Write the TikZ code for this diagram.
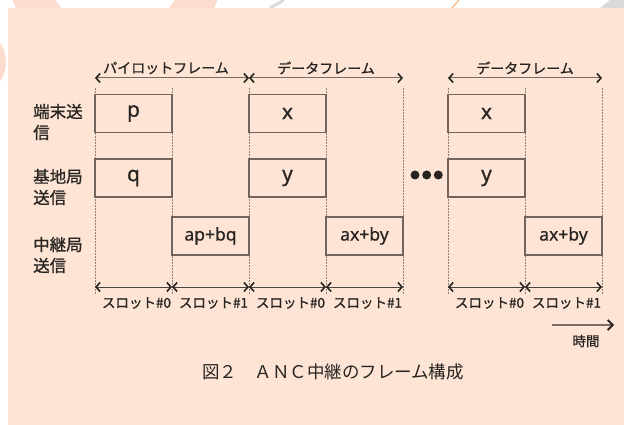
\documentclass[tikz,border=0pt]{standalone}
\usepackage{fontspec}
\setmainfont[FakeBold=0.6]{Noto Sans}
\newfontfamily\jp[FakeBold=0.9]{Noto Sans CJK JP}
\newfontfamily\jpcap{Noto Sans CJK JP}
\usetikzlibrary{arrows.meta}
\definecolor{peach}{RGB}{253,228,212}
\definecolor{boxline}{RGB}{112,100,92}
\definecolor{ink}{RGB}{40,36,34}
\definecolor{dotc}{RGB}{140,128,120}
\definecolor{spanline}{RGB}{120,108,100}
\definecolor{ringc}{RGB}{251,220,207}
\definecolor{greyband}{RGB}{218,218,218}
\definecolor{orangeline}{RGB}{245,172,105}
\begin{document}
\begin{tikzpicture}[x=1pt,y=-1pt,
  slotbox/.style={draw=boxline,line width=1.3pt,fill=peach,minimum width=77pt,minimum height=38pt,inner sep=0pt,text=ink,font=\fontsize{21}{21}\selectfont},
  sumbox/.style={slotbox,font=\fontsize{17.5}{17.5}\selectfont},
  guide/.style={draw=dotc,line width=0.9pt,dash pattern=on 1.6pt off 1.4pt},
  barb/.style={>={Straight Barb[length=4pt,width=9pt,line width=1.6pt,color=ink]},<->},
  topspan/.style={draw=spanline,line width=1pt,barb},
  slotspan/.style={draw=ink!85,line width=1pt,barb},
  framelbl/.style={text=ink,font=\jp\fontsize{14}{14}\selectfont,inner sep=0pt},
  slotlbl/.style={text=ink,font=\jp\fontsize{13.5}{13.5}\selectfont,inner sep=0pt},
  rowlbl/.style={text=ink,font=\jp\fontsize{16.5}{21}\selectfont,align=left,anchor=west,inner sep=0pt},
  timearrow/.style={draw=spanline,line width=1.2pt,-{Straight Barb[length=5pt,width=10pt,line width=1.8pt,color=ink]}}
]
\useasboundingbox (0,0) rectangle (624,425);
% background
\begin{scope}
\clip (0,0) rectangle (624,425);
\fill[white] (0,0) rectangle (624,425);
\fill[ringc,even odd rule] (115,-40) circle (110pt) (115,-40) circle (72pt);
\fill[ringc] (-12,62) ellipse (18pt and 26pt);
\draw[greyband,line width=3pt] (284,0) -- (270,8);
\draw[orangeline,line width=1pt] (459,0) -- (452,8);
\fill[greyband] (610,0) -- (624,0) -- (624,8) -- (600,8) -- cycle;
\fill[peach] (8,8) rectangle (624,425);
\end{scope}
% guide lines and arrow anchors
\foreach \i/\x in {0/95,1/172,2/249,3/326,4/403,5/448,6/525,7/602}{
  \coordinate (t\i) at (\x,88);
  \coordinate (b\i) at (\x,294);
  \coordinate (a\i) at (\x,78);
  \coordinate (s\i) at (\x,287);
  \draw[guide] (t\i) -- (b\i);
}
% boxes
\node[slotbox] (p)  at (133.5,113.5) {p};
\node[slotbox] (q)  at (133.5,178) {q};
\node[sumbox]  (r1) at (210.5,236) {ap+bq};
\node[slotbox] (x1) at (287.5,113.5) {x};
\node[slotbox] (y1) at (287.5,178) {y};
\node[sumbox]  (r2) at (364.5,236) {ax+by};
\node[slotbox] (x2) at (486.5,113.5) {x};
\node[slotbox] (y2) at (486.5,178) {y};
\node[sumbox]  (r3) at (563.5,236) {ax+by};
% frame arrows
\draw[topspan] (a0) -- (a2);
\draw[topspan] (a2) -- (a4);
\draw[topspan] (a5) -- (a7);
\node[framelbl] (f1) at (166,68) {パイロットフレーム};
\node[framelbl] (f2) at (326,68) {データフレーム};
\node[framelbl] (f3) at (525,68) {データフレーム};
% slot arrows
\draw[slotspan] (s0) -- (s1);
\draw[slotspan] (s1) -- (s2);
\draw[slotspan] (s2) -- (s3);
\draw[slotspan] (s3) -- (s4);
\draw[slotspan] (s5) -- (s6);
\draw[slotspan] (s6) -- (s7);
\node[slotlbl] (l0) at (136.5,303) {スロット\#0};
\node[slotlbl] (l1) at (213.5,303) {スロット\#1};
\node[slotlbl] (l2) at (290.5,303) {スロット\#0};
\node[slotlbl] (l3) at (367.5,303) {スロット\#1};
\node[slotlbl] (l5) at (489.5,303) {スロット\#0};
\node[slotlbl] (l6) at (566.5,303) {スロット\#1};
% row labels
\node[rowlbl] (rl1) at (33,122) {端末送\\信};
\node[rowlbl] (rl2) at (33,187) {基地局\\送信};
\node[rowlbl] (rl3) at (33,255) {中継局\\送信};
% ellipsis dots
\fill[ink] (415,175) circle (4.5pt) (426.7,175) circle (4.5pt) (438.3,175) circle (4.5pt);
% time arrow
\coordinate (ts) at (552,325);
\coordinate (te) at (614,325);
\draw[timearrow] (ts) -- (te);
\node[slotlbl] (tl) at (586,341) {時間};
% caption
\node[text=ink,font=\jpcap\fontsize{17.5}{17.5}\selectfont,inner sep=0pt] (cap) at (333,372) {図２　ＡＮＣ中継のフレーム構成};
\end{tikzpicture}
\end{document}
